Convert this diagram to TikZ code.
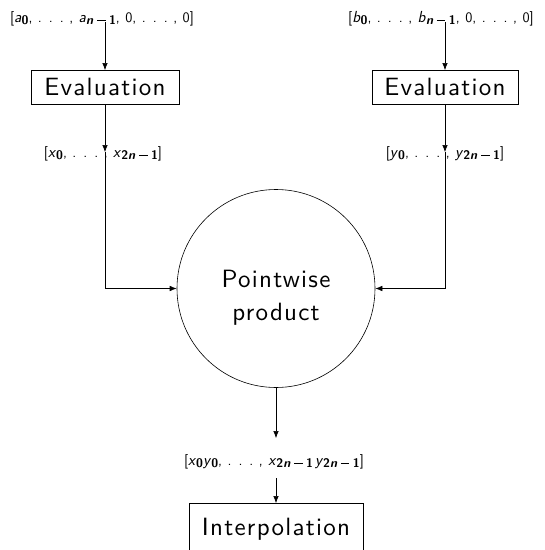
\documentclass[tikz,border=0pt]{standalone}
\usepackage{fontspec}
\newfontfamily\bigsf{lmsans10-regular.otf}[LetterSpace=5.0]
\usetikzlibrary{arrows.meta}
\newcommand\vv[1]{{\fontsize{16}{16}\selectfont\textsl{#1}}}
\newcommand\sbs[1]{\raisebox{-2.5pt}{\fontsize{12.5}{13}\selectfont\bfseries #1}}
\newcommand\mns{\hspace{3.5pt}\rule[3.2pt]{8.5pt}{1.2pt}\hspace{3.5pt}}
\newcommand\nmo{\textsl{n}\mns 1}
\newcommand\tnmo{2\textsl{n}\mns 1}
\newcommand\cm{,\hspace{5.5pt}}
\newcommand\dts{.\hspace{7pt}.\hspace{7pt}.\hspace{5.5pt}}
\begin{document}
\begin{tikzpicture}[x=1pt,y=-1pt,
  box/.style={draw,line width=0.6pt,font=\fontsize{25}{28}\bigsf,inner sep=0pt,anchor=north},
  big/.style={font=\fontsize{25}{28}\bigsf,inner sep=0pt,anchor=base},
  lbl/.style={font=\fontsize{14.5}{16}\sffamily,inner sep=0pt,anchor=base},
  arr/.style={-{Latex[length=7pt,width=5.5pt]},line width=0.6pt}]
\useasboundingbox (0,0) rectangle (545,550);
\node[lbl] (la) at (102,22) {[\vv{a}\sbs{0}\cm\dts\cm\vv{a}\sbs{\nmo}\cm 0\cm\dts\cm 0]};
\node[lbl] (lb) at (441,22) {[\vv{b}\sbs{0}\cm\dts\cm\vv{b}\sbs{\nmo}\cm 0\cm\dts\cm 0]};
\node[box,minimum width=148pt,minimum height=34pt] (ea) at (105,70) {Evaluation};
\node[box,minimum width=146pt,minimum height=34pt] (eb) at (445,70) {Evaluation};
\node[lbl] (lx) at (103,157) {[\vv{x}\sbs{0}\cm\dts\cm\vv{x}\sbs{\tnmo}]};
\node[lbl] (ly) at (445,157) {[\vv{y}\sbs{0}\cm\dts\cm\vv{y}\sbs{\tnmo}]};
\node[draw,circle,line width=0.6pt,minimum size=198pt,inner sep=0pt] (pw) at (276,288.5) {};
\node[big] (pw1) at (276,287) {Pointwise};
\node[big] (pw2) at (276,320) {product};
\node[lbl] (lp) at (274,465) {[\vv{x}\sbs{0}\vv{y}\sbs{0}\cm\dts\cm\vv{x}\sbs{\tnmo}\hspace{2pt}\vv{y}\sbs{\tnmo}]};
\node[box,minimum width=174pt,minimum height=55pt] (ip) at (276,503) {};
\node[big] (ipt) at (276,535) {Interpolation};
\coordinate (ca) at (105,22);
\coordinate (cb) at (445,22);
\coordinate (xa) at (105,152);
\coordinate (xb) at (445,152);
\coordinate (pa) at (276,438);
\coordinate (pb) at (276,478);
\draw[arr] (ca) -- (ea.north);
\draw[arr] (cb) -- (eb.north);
\draw[arr] (ea.south) -- (xa);
\draw[arr] (eb.south) -- (xb);
\draw[arr] (xa) |- (pw.west);
\draw[arr] (xb) |- (pw.east);
\draw[arr] (pw.south) -- (pa);
\draw[arr] (pb) -- (ip.north);
\end{tikzpicture}
\end{document}
